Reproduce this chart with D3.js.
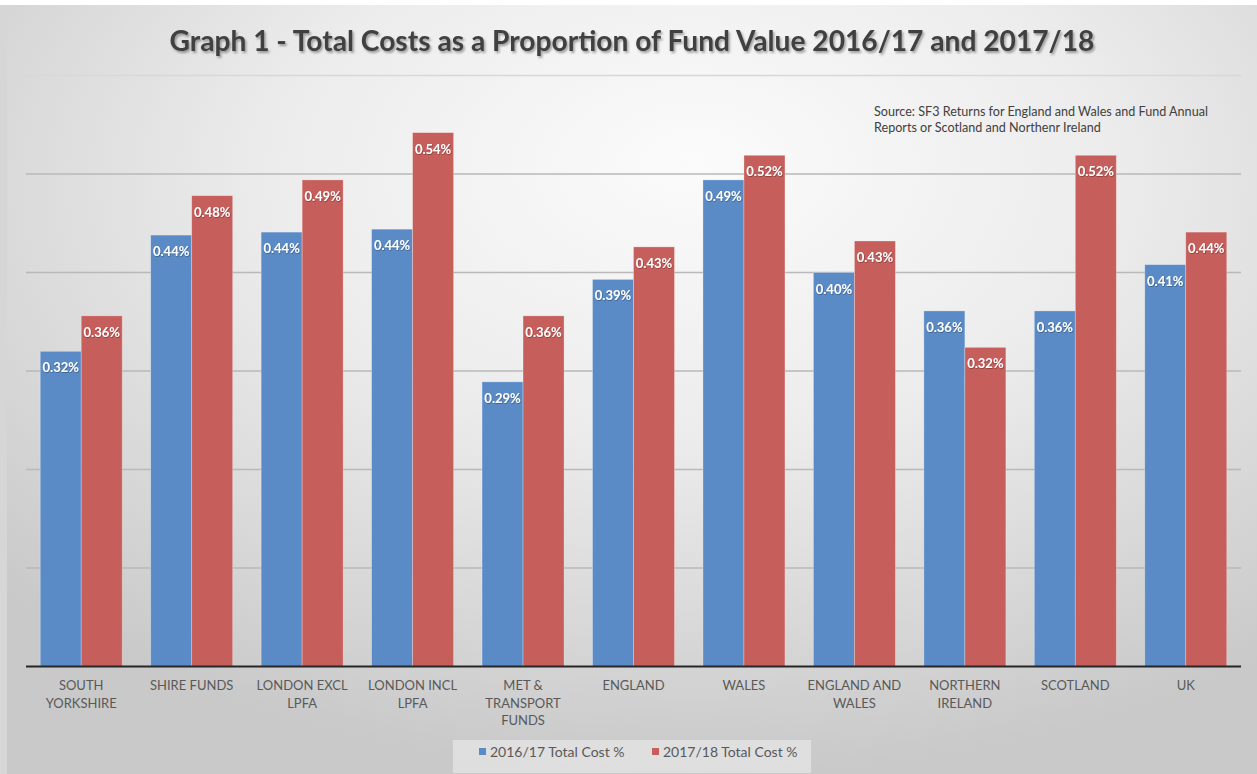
<!DOCTYPE html>
<html>
<head>
<meta charset="utf-8">
<script src="https://cdn.jsdelivr.net/npm/d3@7"></script>
<style>
  html, body { margin: 0; padding: 0; background: #ffffff; }
  svg { display: block; }
</style>
</head>
<body>
<svg id="chart" width="1257" height="774"></svg>
<script>
// ---------------- DATA ----------------
const categories = [
  "SOUTH\nYORKSHIRE", "SHIRE FUNDS", "LONDON EXCL\nLPFA", "LONDON INCL\nLPFA",
  "MET &\nTRANSPORT\nFUNDS", "ENGLAND", "WALES", "ENGLAND AND\nWALES",
  "NORTHERN\nIRELAND", "SCOTLAND", "UK"
];
const seriesNames = ["2016/17 Total Cost %", "2017/18 Total Cost %"];
const values2016 = [0.320, 0.438, 0.441, 0.444, 0.289, 0.393, 0.494, 0.400, 0.361, 0.361, 0.408];
const values2017 = [0.356, 0.478, 0.494, 0.542, 0.356, 0.426, 0.519, 0.432, 0.324, 0.519, 0.441];
const yTicks = [0.1, 0.2, 0.3, 0.4, 0.5, 0.6];
const titleText = "Graph 1 - Total Costs as a Proportion of Fund Value 2016/17 and 2017/18";
const sourceLines = [
  "Source: SF3 Returns for England and Wales and Fund Annual",
  "Reports or Scotland and Northenr Ireland"
];
const colors = ["#5b8bc6", "#c65e5b"];

// ---------------- SETUP ----------------
const W = 1257, H = 774;
const svg = d3.select("#chart");
const defs = svg.append("defs");

const bg = defs.append("radialGradient").attr("id", "bg")
  .attr("cx", "55%").attr("cy", "25%").attr("r", "75%")
  .attr("fx", "55%").attr("fy", "20%");
bg.append("stop").attr("offset", "0%").attr("stop-color", "#fbfbfb");
bg.append("stop").attr("offset", "45%").attr("stop-color", "#ececec");
bg.append("stop").attr("offset", "100%").attr("stop-color", "#c9c9c9");

const shadow = defs.append("filter").attr("id", "tshadow")
  .attr("x", "-5%").attr("y", "-30%").attr("width", "110%").attr("height", "160%");
shadow.append("feDropShadow").attr("dx", 1.5).attr("dy", 2).attr("stdDeviation", 1.2)
  .attr("flood-color", "#000").attr("flood-opacity", 0.35);

const lshadow = defs.append("filter").attr("id", "lshadow")
  .attr("x", "-10%").attr("y", "-30%").attr("width", "120%").attr("height", "160%");
lshadow.append("feDropShadow").attr("dx", 0.6).attr("dy", 0.8).attr("stdDeviation", 0.6)
  .attr("flood-color", "#000").attr("flood-opacity", 0.35);

svg.append("rect").attr("x", 0).attr("y", 0).attr("width", W).attr("height", H).attr("fill", "#ffffff");
svg.append("rect").attr("x", 6).attr("y", 5).attr("width", W - 6).attr("height", H - 5).attr("fill", "url(#bg)");
svg.append("rect").attr("x", 0).attr("y", 5).attr("width", 7).attr("height", H - 5).attr("fill", "#d6d6d6");

// ---------------- SCALES ----------------
const plot = { left: 26, right: 1241, top: 75.5, bottom: 666.5 };
const x0 = d3.scaleBand().domain(categories).range([plot.left, plot.right])
  .paddingInner(0.2576).paddingOuter(0.1288);
const x1 = d3.scaleBand().domain([0, 1]).range([0, x0.bandwidth()]).padding(0);
const y = d3.scaleLinear().domain([0, 0.6]).range([plot.bottom, plot.top]);

// ---------------- GRIDLINES ----------------
svg.append("g").selectAll("line").data(yTicks).join("line")
  .attr("x1", plot.left).attr("x2", plot.right)
  .attr("y1", d => y(d)).attr("y2", d => y(d))
  .attr("stroke", d => d === 0.6 ? "#d8d8d8" : "#b9b9b9")
  .attr("stroke-width", 1.5);

// ---------------- BARS ----------------
const rows = categories.map((c, i) => ({ cat: c, vals: [values2016[i], values2017[i]] }));
const groups = svg.append("g").selectAll("g").data(rows).join("g")
  .attr("transform", d => `translate(${x0(d.cat)},0)`);

groups.selectAll("rect").data(d => d.vals.map((v, s) => ({ v, s }))).join("rect")
  .attr("x", d => x1(d.s)).attr("width", x1.bandwidth())
  .attr("y", d => y(d.v)).attr("height", d => y(0) - y(d.v))
  .attr("fill", d => colors[d.s])
  .attr("stroke", "rgba(255,255,255,0.35)").attr("stroke-width", 0.8);

groups.selectAll("text.lbl").data(d => d.vals.map((v, s) => ({ v, s }))).join("text")
  .attr("class", "lbl")
  .attr("x", d => x1(d.s) + x1.bandwidth() / 2)
  .attr("y", d => y(d.v) + 21)
  .attr("text-anchor", "middle")
  .attr("font-family", "Lato, 'Open Sans', sans-serif")
  .attr("font-weight", "bold").attr("font-size", 13)
  .attr("fill", "#ffffff").attr("filter", "url(#lshadow)")
  .text(d => d3.format(".2f")(d.v) + "%");

// ---------------- X AXIS ----------------
svg.append("line").attr("x1", plot.left).attr("x2", plot.right)
  .attr("y1", y(0)).attr("y2", y(0)).attr("stroke", "#262626").attr("stroke-width", 2);

const xl = svg.append("g").selectAll("text").data(categories).join("text")
  .attr("x", d => x0(d) + x0.bandwidth() / 2)
  .attr("y", 690)
  .attr("text-anchor", "middle")
  .attr("font-family", "Lato, 'Open Sans', sans-serif")
  .attr("font-size", 13).attr("fill", "#595959");
xl.each(function(d) {
  const t = d3.select(this);
  d.split("\n").forEach((line, i) => {
    t.append("tspan").attr("x", x0(d) + x0.bandwidth() / 2).attr("dy", i === 0 ? 0 : 17.5).text(line);
  });
});

// ---------------- TITLE ----------------
const title = svg.append("text").attr("x", 632).attr("y", 51)
  .attr("text-anchor", "middle")
  .attr("font-family", "Lato, 'Open Sans', sans-serif")
  .attr("font-weight", "bold").attr("font-size", 26)
  .attr("fill", "#404040").attr("filter", "url(#tshadow)")
  .text(titleText);
{
  const w = title.node().getComputedTextLength();
  title.attr("font-size", 26 * 925 / w);
}

// ---------------- SOURCE ----------------
const src = svg.append("text").attr("font-family", "Lato, 'Open Sans', sans-serif")
  .attr("font-size", 12.6).attr("fill", "#404040");
sourceLines.forEach((l, i) => {
  src.append("tspan").attr("x", 874).attr("y", 116 + i * 15.5).text(l);
});

// ---------------- LEGEND ----------------
const legend = svg.append("g");
legend.append("rect").attr("x", 453).attr("y", 740).attr("width", 358).attr("height", 33)
  .attr("fill", "#e4e4e4").attr("opacity", 0.8);
const legendX = [479, 652];
seriesNames.forEach((n, i) => {
  legend.append("rect").attr("x", legendX[i]).attr("y", 748).attr("width", 7).attr("height", 7)
    .attr("fill", colors[i]);
  legend.append("text").attr("x", legendX[i] + 11).attr("y", 757)
    .attr("font-family", "Lato, 'Open Sans', sans-serif")
    .attr("font-size", 14).attr("fill", "#595959").text(n);
});
</script>
</body>
</html>
